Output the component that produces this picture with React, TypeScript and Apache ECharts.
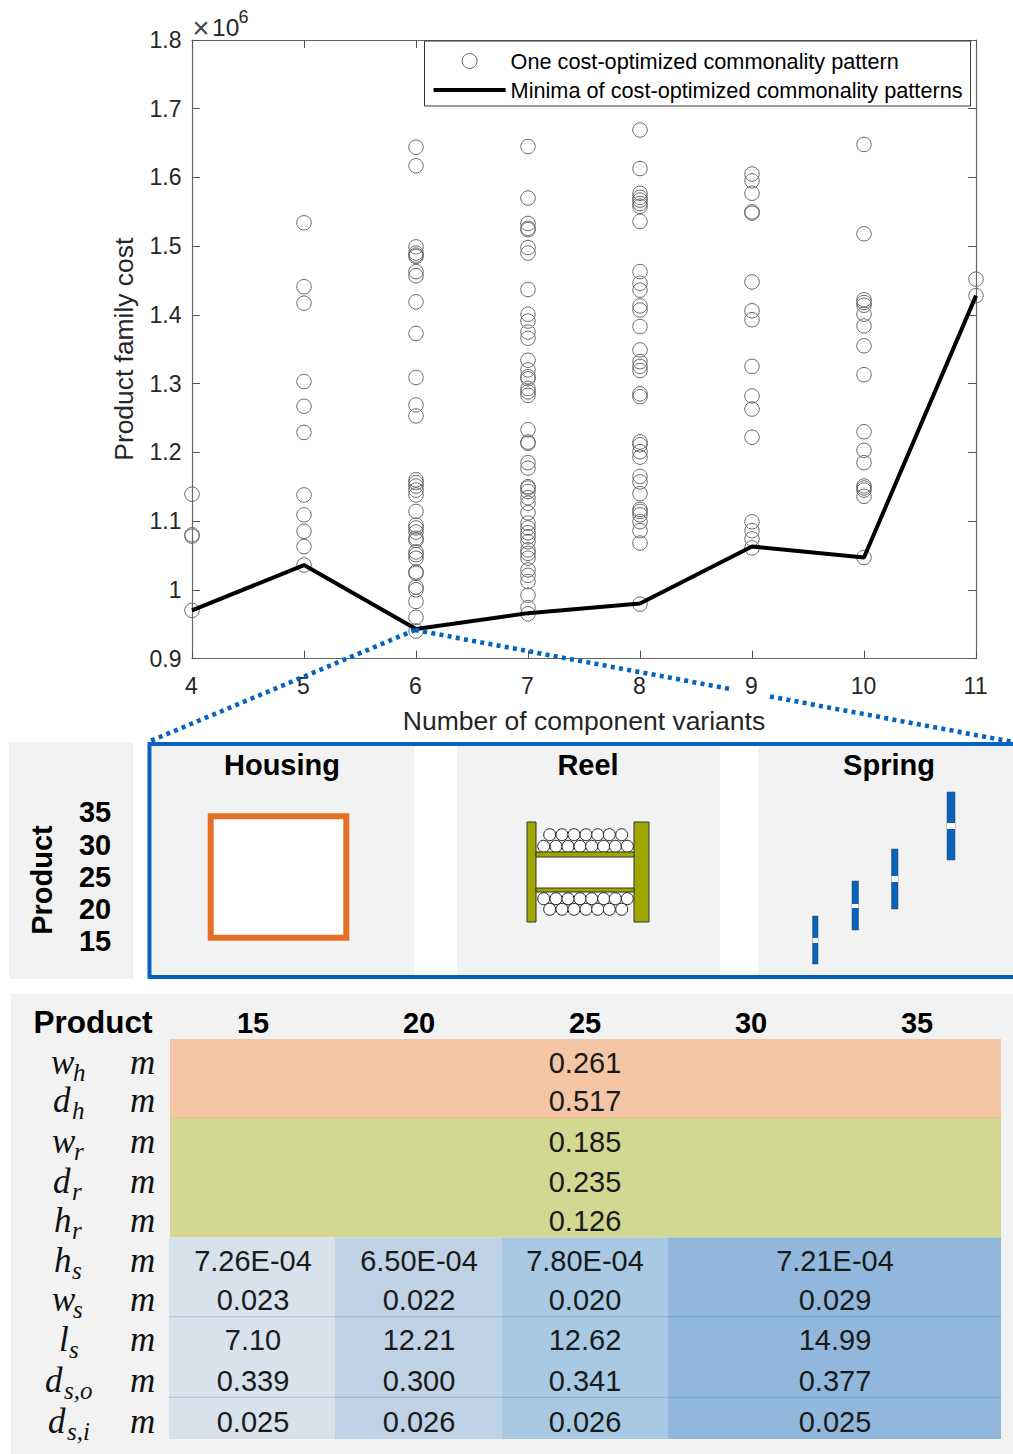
import React, { useEffect, useRef } from "react";
import * as echarts from "echarts";

const SANS = '"Liberation Sans", Arial, sans-serif';
const SERIF = '"Liberation Serif", serif';
const BLUE = "#0563BD";

const tickLabelsY = ["0.9", "1", "1.1", "1.2", "1.3", "1.4", "1.5", "1.6", "1.7", "1.8"];

const v4 = [1.139, 1.08, 1.078, 0.97];
const v5 = [1.534, 1.441, 1.417, 1.303, 1.267, 1.229, 1.138, 1.109, 1.085, 1.063, 1.036];
const v6 = [1.644, 1.617, 1.499, 1.49, 1.487, 1.485, 1.463, 1.457, 1.419, 1.373, 1.309, 1.269, 1.253, 1.16, 1.156, 1.151, 1.145, 1.138, 1.114, 1.094, 1.09, 1.084, 1.075, 1.072, 1.055, 1.051, 1.046, 1.026, 1.024, 1.004, 1.0, 0.983, 0.96, 0.94];
const v7 = [1.645, 1.57, 1.533, 1.526, 1.524, 1.498, 1.49, 1.437, 1.401, 1.391, 1.375, 1.366, 1.334, 1.32, 1.31, 1.307, 1.293, 1.288, 1.283, 1.233, 1.215, 1.213, 1.185, 1.177, 1.15, 1.148, 1.143, 1.134, 1.126, 1.112, 1.097, 1.09, 1.083, 1.077, 1.07, 1.058, 1.053, 1.046, 1.029, 1.021, 1.012, 0.992, 0.974, 0.965];
const v8 = [1.669, 1.613, 1.577, 1.571, 1.567, 1.562, 1.558, 1.536, 1.463, 1.446, 1.436, 1.413, 1.407, 1.383, 1.349, 1.332, 1.325, 1.319, 1.285, 1.281, 1.215, 1.211, 1.201, 1.193, 1.165, 1.157, 1.14, 1.117, 1.114, 1.109, 1.099, 1.086, 1.068, 0.979];
const v9 = [1.605, 1.595, 1.577, 1.55, 1.548, 1.448, 1.406, 1.393, 1.325, 1.282, 1.263, 1.222, 1.099, 1.086, 1.074, 1.061];
const v10 = [1.648, 1.518, 1.422, 1.418, 1.414, 1.401, 1.384, 1.355, 1.313, 1.23, 1.203, 1.185, 1.151, 1.148, 1.145, 1.136, 1.047];
const v11 = [1.452, 1.428];
const scatterColumns: [number, number[]][] = [[4, v4], [5, v5], [6, v6], [7, v7], [8, v8], [9, v9], [10, v10], [11, v11]];

const variantCounts = [4, 5, 6, 7, 8, 9, 10, 11];
const minima = [0.97, 1.036, 0.943, 0.966, 0.98, 1.063, 1.047, 1.428];

const SCATTER_NAME = "One cost-optimized commonality pattern";
const LINE_NAME = "Minima of cost-optimized commonality patterns";

const productIds = ["15", "20", "25", "30", "35"];
const sharedRows = ["0.261", "0.517", "0.185", "0.235", "0.126"];
const springRows = [
  ["7.26E-04", "6.50E-04", "7.80E-04", "7.21E-04"],
  ["0.023", "0.022", "0.020", "0.029"],
  ["7.10", "12.21", "12.62", "14.99"],
  ["0.339", "0.300", "0.341", "0.377"],
  ["0.025", "0.026", "0.026", "0.025"],
];
const mathSymbols: [string, string, number, number][] = [
  ["w", "h", 51, 73], ["d", "h", 53, 72], ["w", "r", 52, 74], ["d", "r", 53, 72], ["h", "r", 54, 72],
  ["h", "s", 54, 72], ["w", "s", 52, 73], ["l", "s", 59, 69], ["d", "s,o", 45, 64], ["d", "s,i", 48, 67],
];
const rowCenters = [1063, 1101, 1142, 1182, 1221, 1261, 1300, 1340, 1381, 1422];
const headerCenters = [253, 419, 585, 751, 917];
const springCenters = [253, 419, 585, 835];
const springCols: [number, number, string][] = [[169, 335, "#D8E2EC"], [335, 502, "#C0D3E6"], [502, 668, "#A7C9E3"], [668, 1001, "#91B8DC"]];
const reelRowA = [549.7, 562, 574, 586, 597.7, 609.3, 621.7];
const reelRowB = [543.7, 556, 568, 580, 591.7, 603.7, 615.3, 627.3];
const springMarks: [number, number, number, number, number, number][] = [
  [812.6, 818, 916, 964, 938, 943], [852, 858.5, 881, 930, 904, 908], [891.5, 898, 849, 909, 876, 882], [947, 955, 792, 860, 823, 829],
];
const leftProducts: [string, number][] = [["35", 812], ["30", 845], ["25", 877], ["20", 909], ["15", 941]];

function txt(text: string, x: number, y: number, fontSize: number, extra: any = {}) {
  const { style = {}, ...rest } = extra;
  return {
    type: "text", x, y, z: 30, silent: true, ...rest,
    style: {
      text, fontSize, fontFamily: SANS, fill: "#000",
      align: "center", verticalAlign: "middle", textAlign: "center", textVerticalAlign: "middle",
      ...style,
    },
  };
}
function box(x0: number, y0: number, x1: number, y1: number, fill: string, extra: any = {}) {
  return { type: "rect", z: 20, silent: true, shape: { x: x0, y: y0, width: x1 - x0, height: y1 - y0 }, style: { fill, ...extra } };
}
function dotted(x1: number, y1: number, x2: number, y2: number) {
  return { type: "line", z: 25, silent: true, shape: { x1, y1, x2, y2 }, style: { stroke: BLUE, lineWidth: 4.6, lineDash: [4, 4.3] } };
}

function buildGraphics() {
  const g: any[] = [];
  g.push(dotted(415, 630, 148, 742), dotted(415, 630, 733, 689.5), dotted(770, 696.5, 1013, 742));
  g.push(txt("×", 201, 28, 29, { style: { fill: "#444" } }));
  g.push(txt("10", 212, 27, 24.5, { style: { align: "left", textAlign: "left", fill: "#262626" } }));
  g.push(txt("6", 238.5, 17, 18, { style: { align: "left", textAlign: "left", fill: "#262626" } }));

  g.push(box(9, 742, 133, 979, "#F2F2F2"));
  g.push(box(152, 746, 414, 975, "#F2F2F2"), box(457, 746, 720, 975, "#F2F2F2"), box(758, 746, 1013, 975, "#F2F2F2"));
  g.push({ type: "polyline", z: 26, silent: true, shape: { points: [[1015, 744], [149.5, 744], [149.5, 977], [1015, 977]] }, style: { fill: "none", stroke: BLUE, lineWidth: 4 } });
  g.push(txt("Product", 42, 880, 29, { rotation: Math.PI / 2, style: { fontWeight: "bold" } }));
  leftProducts.forEach(([t, y]) => g.push(txt(t, 95, y, 29, { style: { fontWeight: "bold" } })));
  g.push(txt("Housing", 282, 765, 29, { style: { fontWeight: "bold" } }));
  g.push(txt("Reel", 588, 765, 29, { style: { fontWeight: "bold" } }));
  g.push(txt("Spring", 889, 765, 29, { style: { fontWeight: "bold" } }));

  g.push({ type: "rect", z: 21, silent: true, shape: { x: 210.7, y: 816.2, width: 135.6, height: 121.6 }, style: { fill: "#fff", stroke: "#E57025", lineWidth: 6 } });

  const olive = { stroke: "#333", lineWidth: 1 };
  g.push(box(536, 857, 634, 888, "#fff"));
  [[834.7, reelRowA], [846.3, reelRowB], [898.7, reelRowB], [909.3, reelRowA]].forEach(([cy, xs]: any) => {
    xs.forEach((cx: number) => g.push({ type: "circle", z: 21, silent: true, shape: { cx, cy, r: 6 }, style: { fill: "#fff", stroke: "#222", lineWidth: 1 } }));
  });
  [[527, 822, 536, 922], [634, 822, 649, 922], [536, 852, 634, 857], [536, 888, 634, 892]].forEach(([a, b, c, d]) => {
    const r: any = box(a, b, c, d, "#A0A800", olive);
    r.z = 22;
    g.push(r);
  });

  springMarks.forEach(([a, b, c, d, e, f]) => {
    const r: any = box(a, c, b, d, BLUE, { stroke: "#444", lineWidth: 0.5 });
    r.z = 22;
    const w: any = box(a, e, b, f, "#fff");
    w.z = 23;
    g.push(r, w);
  });

  g.push(box(11, 994, 1013, 1454, "#F2F2F2"));
  g.push(box(170, 1039, 1001, 1118, "#F4C6A6"), box(170, 1118, 1001, 1237.5, "#D2D792"));
  springCols.forEach(([a, b, c]) => g.push(box(a, 1237.5, b, 1439, c)));
  [[170, 1001, 1118, "#E3C27A"]].forEach(([a, b, y, c]: any) => g.push({ type: "line", z: 21, silent: true, shape: { x1: a, y1: y, x2: b, y2: y }, style: { stroke: c, lineWidth: 1 } }));
  [1316.7, 1397.3].forEach((y) => springCols.forEach(([a, b]) => g.push({ type: "line", z: 21, silent: true, shape: { x1: a, y1: y, x2: b, y2: y }, style: { stroke: "rgba(70,130,190,0.35)", lineWidth: 1 } })));

  g.push(txt("Product", 93, 1022, 31.5, { style: { fontWeight: "bold" } }));
  productIds.forEach((p, i) => g.push(txt(p, headerCenters[i], 1023, 29, { style: { fontWeight: "bold" } })));

  mathSymbols.forEach(([a, b, x0, x1], i) => {
    const y = rowCenters[i];
    const st = { fontFamily: SERIF, fontStyle: "italic", align: "left", textAlign: "left", fill: "#111" };
    g.push(txt(a, x0, y - 1, 35, { style: st }));
    g.push(txt(b, x1, y + 9, 25, { style: st }));
    g.push(txt("m", 130, y - 1, 35, { style: st }));
  });
  sharedRows.forEach((t, i) => g.push(txt(t, 585, rowCenters[i], 29, { style: { fill: "#1a1a1a" } })));
  springRows.forEach((row, r) => row.forEach((t, c) => g.push(txt(t, springCenters[c], rowCenters[r + 5], 29, { style: { fill: "#1a1a1a" } }))));
  return g;
}

export default function App() {
  const ref = useRef<HTMLDivElement>(null);
  useEffect(() => {
    const chart = echarts.init(ref.current!, undefined, { renderer: "svg" });
    const scatterData: number[][] = [];
    scatterColumns.forEach(([x, ys]) => ys.forEach((y) => scatterData.push([x, y])));
    const axisLine = { show: true, lineStyle: { color: "#666", width: 1.2 } };
    const axisTick = { show: true, inside: true, length: 8, lineStyle: { color: "#555", width: 1 } };
    const labelStyle = { color: "#262626", fontFamily: SANS, fontSize: 23 };
    chart.setOption({
      animation: false,
      backgroundColor: "#fff",
      textStyle: { fontFamily: SANS },
      grid: { left: 192, right: 37, top: 40, bottom: 795.5, containLabel: false },
      legend: {
        left: 424.5, top: 41, orient: "vertical", itemWidth: 72, itemHeight: 15, itemGap: 7, padding: [9, 8, 5, 7],
        backgroundColor: "#fff", borderColor: "#333", borderWidth: 1, borderRadius: 0, z: 10,
        textStyle: { color: "#000", fontFamily: SANS, fontSize: 21.7 },
        data: [
          { name: SCATTER_NAME, icon: "circle", itemStyle: { color: "transparent", borderColor: "#666", borderWidth: 1 } },
          { name: LINE_NAME, itemStyle: { color: "transparent", borderColor: "transparent", borderWidth: 0 }, lineStyle: { color: "#000", width: 4.2 } },
        ],
      },
      xAxis: [
        {
          type: "value", min: 4, max: 11, interval: 1, splitLine: { show: false }, axisLine, axisTick,
          axisLabel: { ...labelStyle, margin: 16, padding: [0, 1, 0, 0] },
          name: "Number of component variants", nameLocation: "middle", nameGap: 49,
          nameTextStyle: { color: "#262626", fontFamily: SANS, fontSize: 26.5 },
        },
        { type: "value", position: "top", min: 4, max: 11, interval: 1, splitLine: { show: false }, axisLine, axisTick, axisLabel: { show: false } },
      ],
      yAxis: [
        {
          type: "value", min: 0.9, max: 1.8, interval: 0.1, splitLine: { show: false }, axisLine, axisTick,
          axisLabel: { ...labelStyle, margin: 10.5, padding: [5, 0, 0, 0], formatter: (v: number) => tickLabelsY[Math.round((v - 0.9) * 10)] },
          name: "Product family cost", nameLocation: "middle", nameGap: 55, nameRotate: 90,
          nameTextStyle: { color: "#262626", fontFamily: SANS, fontSize: 26.4 },
        },
        { type: "value", position: "right", min: 0.9, max: 1.8, interval: 0.1, splitLine: { show: false }, axisLine, axisTick, axisLabel: { show: false } },
      ],
      series: [
        {
          name: SCATTER_NAME, type: "scatter", data: scatterData, symbol: "circle", symbolSize: 14.5, clip: false, z: 3,
          itemStyle: { color: "transparent", borderColor: "#6a6a6a", borderWidth: 1, opacity: 1 },
        },
        {
          name: LINE_NAME, type: "line", data: variantCounts.map((x, i) => [x, minima[i]]), showSymbol: false, symbol: "none", clip: false, z: 4,
          lineStyle: { color: "#000", width: 4 }, itemStyle: { color: "#000" },
        },
      ],
      graphic: { elements: buildGraphics() },
    });
    return () => chart.dispose();
  }, []);
  return <div ref={ref} style={{ position: "absolute", left: 0, top: 0, width: 1013, height: 1454 }} />;
}
